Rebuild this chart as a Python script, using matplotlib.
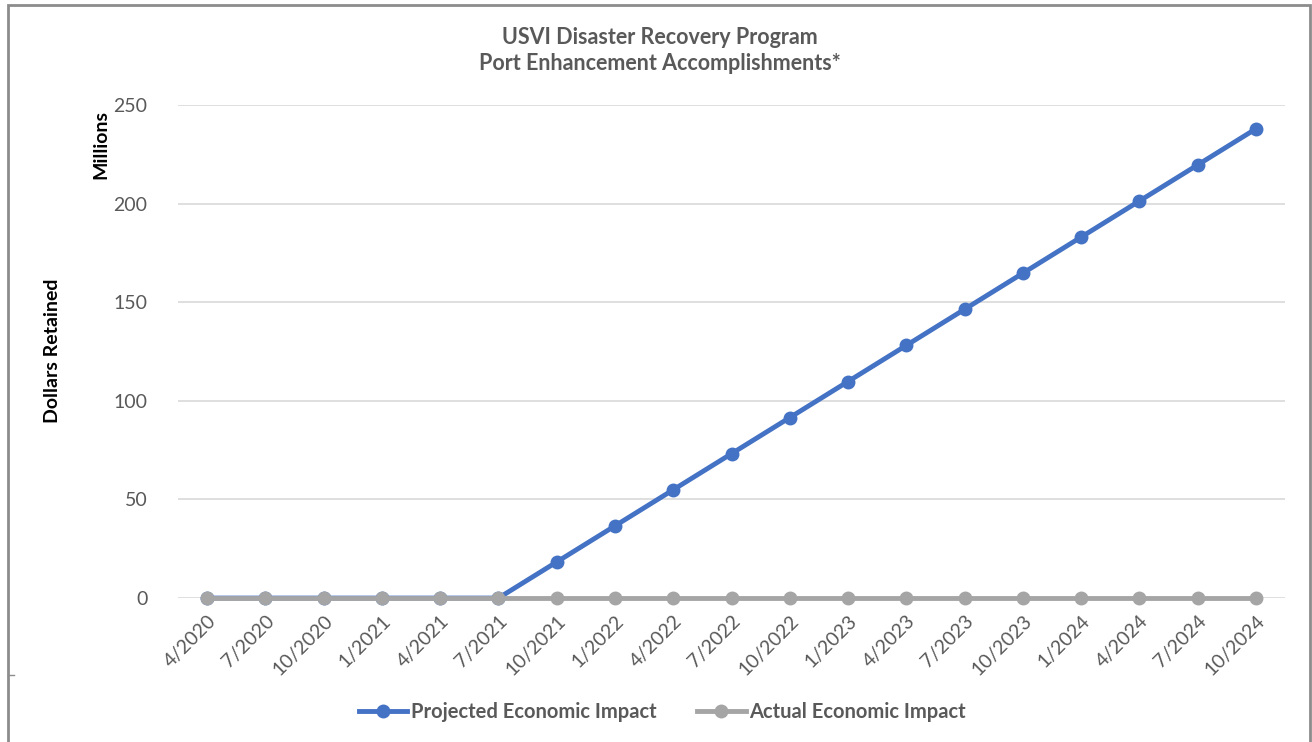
import numpy as np
import matplotlib.pyplot as plt
from matplotlib.patches import Rectangle
from matplotlib.lines import Line2D

# -----------------------------
# Data
# -----------------------------
quarters = ["4/2020", "7/2020", "10/2020", "1/2021", "4/2021", "7/2021",
            "10/2021", "1/2022", "4/2022", "7/2022", "10/2022", "1/2023",
            "4/2023", "7/2023", "10/2023", "1/2024", "4/2024", "7/2024",
            "10/2024"]
projected = [0, 0, 0, 0, 0, 0,
             18.3, 36.6, 54.9, 73.2, 91.5, 109.8,
             128.1, 146.4, 164.7, 183.0, 201.3, 219.6, 237.9]
actual = [0] * len(quarters)

blue = "#4472C4"
gray = "#A5A5A5"
txt = "#595959"

plt.rcParams["font.family"] = ["Lato", "DejaVu Sans"]

# -----------------------------
# Plot
# -----------------------------
fig = plt.figure(figsize=(13.12, 7.42), dpi=100)
ax = fig.add_axes([0.1357, 0.194, 0.8437, 0.6645])

x = np.arange(len(quarters))
ax.plot(x, projected, color=blue, lw=3.5, marker="o", ms=9, zorder=3,
        clip_on=False)
ax.plot(x, actual, color=gray, lw=3.5, marker="o", ms=9, zorder=4,
        clip_on=False)

ax.set_xlim(-0.5, len(quarters) - 0.5)
ax.set_ylim(0, 250)
ax.set_yticks(np.arange(0, 251, 50))
ax.set_xticks(x)
ax.set_xticklabels(quarters, rotation=45, ha="right", va="top",
                   rotation_mode="anchor")
ax.tick_params(axis="both", length=0, labelsize=14, colors=txt)
ax.tick_params(axis="y", pad=22)
ax.tick_params(axis="x", pad=10)
ax.grid(axis="y", color="#D9D9D9", lw=1.2)
ax.set_axisbelow(True)
for s in ax.spines.values():
    s.set_visible(False)

fig.text(0.503, 0.95, "USVI Disaster Recovery Program", ha="center",
         va="center", fontsize=15.5, fontweight="bold", color=txt)
fig.text(0.503, 0.915, "Port Enhancement Accomplishments*", ha="center",
         va="center", fontsize=15.5, fontweight="bold", color=txt)

fig.text(0.077, 0.805, "Millions", rotation=90, ha="center", va="center",
         fontsize=14, fontweight="bold", color="black")
fig.text(0.04, 0.527, "Dollars Retained", rotation=90, ha="center",
         va="center", fontsize=14, fontweight="bold", color="black")

handles = [Line2D([], [], color=blue, lw=3.5, marker="o", ms=9),
           Line2D([], [], color=gray, lw=3.5, marker="o", ms=9)]
fig.legend(handles, ["Projected Economic Impact", "Actual Economic Impact"],
           loc="center", bbox_to_anchor=(0.505, 0.04), ncol=2, frameon=False,
           prop={"size": 14.5, "weight": "bold"}, labelcolor=txt,
           handlelength=2.4, handletextpad=0.2, columnspacing=2.0)

# chart frame
fig.patches.append(Rectangle((0.0062, -0.05), 0.9924, 1.043,
                             transform=fig.transFigure, fill=False,
                             edgecolor="#8C8C8C", lw=2))
fig.lines.append(Line2D([0.0062, 0.011], [0.09, 0.09],
                        transform=fig.transFigure, color="#8C8C8C", lw=1))

fig.savefig("out.png", dpi=100)
